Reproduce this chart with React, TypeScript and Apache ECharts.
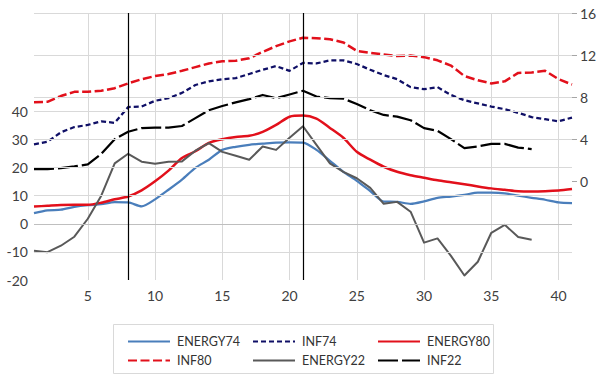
import React, { useEffect, useRef } from "react";
import * as echarts from "echarts";

const categories = ["1","2","3","4","5","6","7","8","9","10","11","12","13","14","15","16","17","18","19","20","21","22","23","24","25","26","27","28","29","30","31","32","33","34","35","36","37","38","39","40","41"];

const energy74 = [3.8,4.8,5.0,6.0,6.6,6.95,7.7,7.6,6.2,8.7,12.1,15.7,19.9,22.8,26.3,27.4,28.1,28.5,28.9,29.0,28.9,26.3,22.4,18.5,15.3,11.6,7.9,7.8,7.1,8.0,9.25,9.7,10.3,11.1,11.1,10.85,10.0,9.25,8.55,7.6,7.35];
const inf74 = [3.5,3.75,4.65,5.15,5.35,5.7,5.55,7.05,7.1,7.65,7.9,8.4,9.15,9.5,9.7,9.8,10.2,10.6,10.95,10.5,11.25,11.2,11.5,11.5,11.15,10.6,10.1,9.7,8.95,8.75,8.95,8.2,7.7,7.4,7.1,6.85,6.5,6.1,5.9,5.7,6.05];
const energy80 = [6.15,6.4,6.65,6.75,6.75,7.5,8.7,9.7,11.9,15.1,18.9,23.4,25.8,28.8,30.1,30.9,31.3,32.7,35.2,38.1,38.5,37.4,34.1,30.6,25.6,22.8,20.3,18.5,17.3,16.4,15.5,14.8,14.1,13.3,12.6,12.1,11.6,11.5,11.6,11.85,12.35];
const inf80 = [7.5,7.55,8.1,8.5,8.5,8.6,8.85,9.3,9.7,10.0,10.2,10.5,10.85,11.2,11.4,11.45,11.7,12.3,12.85,13.3,13.65,13.6,13.5,13.2,12.4,12.2,12.05,11.9,11.95,11.8,11.5,11.0,10.0,9.6,9.3,9.5,10.3,10.35,10.5,9.7,9.2];
const energy22 = [-9.6,-10.1,-7.8,-4.6,1.8,10.0,21.5,24.9,22.1,21.4,22.1,22.2,26.0,28.7,25.6,24.2,22.8,27.5,26.3,30.6,34.7,28.1,21.5,18.5,16.2,12.8,7.1,7.8,4.3,-6.7,-5.2,-11.4,-18.4,-13.5,-3.2,-0.35,-4.7,-5.7,null,null,null];
const inf22 = [1.15,1.15,1.25,1.4,1.6,2.6,4.0,4.7,5.05,5.1,5.1,5.25,6.0,6.75,7.15,7.5,7.8,8.2,7.9,8.25,8.6,8.05,7.9,7.85,7.35,6.75,6.3,6.15,5.8,5.05,4.8,4.0,3.15,3.3,3.55,3.55,3.2,3.05,null,null,null];

const leftTickLabels = [-20, -10, 0, 10, 20, 30, 40];
const rightTickLabels = [0, 4, 8, 12, 16];
const leftGridValues = [-10, 0, 10, 20, 30, 40];
const rightGridValues = [8, 12, 16];
const eventMarkers = ["8", "21"];

const FONT = "Lato";

export default function App() {
  const ref = useRef<HTMLDivElement>(null);
  useEffect(() => {
    if (!ref.current) return;
    const chart = echarts.init(ref.current, null, { renderer: "svg" });
    const gridLine = { color: "#d9d9d9", width: 1, type: "solid" };
    const mkLine = (name: string, data: any[], color: string, width: number, type: any, yAxisIndex: number, smooth: any) => ({
      name,
      type: "line",
      data,
      yAxisIndex,
      symbol: "none",
      smooth,
      connectNulls: false,
      lineStyle: { color, width, type, cap: "butt", join: "round" },
      itemStyle: { color },
      z: 3,
    });
    const option: any = {
      animation: false,
      grid: { left: 34, right: 32, top: 13, bottom: 100, containLabel: false },
      xAxis: {
        type: "category",
        data: categories,
        boundaryGap: false,
        axisLine: { show: false },
        axisTick: { show: false },
        axisLabel: {
          interval: (i: number) => (i + 1) % 5 === 0,
          fontFamily: FONT,
          fontSize: 14,
          color: "#404040",
          margin: 8,
        },
        splitLine: {
          show: true,
          interval: (i: number) => (i + 1) % 5 === 0,
          lineStyle: gridLine,
        },
      },
      yAxis: [
        {
          type: "value",
          min: -20,
          max: 75,
          interval: 10,
          axisLine: { show: false },
          axisTick: { show: false },
          splitLine: { show: false },
          axisLabel: {
            fontFamily: FONT,
            fontSize: 14,
            color: "#404040",
            margin: 6,
            formatter: (v: number) => (leftTickLabels.indexOf(v) >= 0 ? String(v) : ""),
          },
        },
        {
          type: "value",
          position: "right",
          min: -9.4,
          max: 16,
          axisLine: { show: false },
          axisTick: { show: true, length: 5, lineStyle: { color: "#a6a6a6" }, customValues: rightTickLabels },
          splitLine: { show: false },
          axisLabel: {
            fontFamily: FONT,
            fontSize: 14,
            color: "#404040",
            margin: 8,
            customValues: rightTickLabels,
            formatter: (v: number) => (rightTickLabels.indexOf(v) >= 0 ? String(v) : ""),
          },
        },
      ],
      legend: [
        { names: ["ENERGY74", "INF80"], left: 122 },
        { names: ["INF74", "ENERGY22"], left: 247 },
        { names: ["ENERGY80", "INF22"], left: 372 },
      ].map((l) => ({
        data: l.names,
        left: l.left,
        top: 330,
        orient: "vertical",
        itemWidth: 42,
        itemHeight: 14,
        itemGap: 6,
        selectedMode: false,
        itemStyle: { opacity: 0, color: "rgba(0,0,0,0)", borderWidth: 0 },
        textStyle: { fontFamily: FONT, fontSize: 12.5, color: "#333333", padding: [0, 0, 0, 2] },
      })),
      graphic: [
        {
          type: "rect",
          shape: { x: 113.5, y: 324.5, width: 380, height: 49 },
          style: { fill: "none", stroke: "#d9d9d9", lineWidth: 1 },
          silent: true,
        },
      ],
      series: [
        {
          name: "gridLeft",
          type: "line",
          data: [],
          yAxisIndex: 0,
          z: 1,
          silent: true,
          markLine: {
            silent: true,
            symbol: "none",
            label: { show: false },
            animation: false,
            data: leftGridValues.map((v) => ({
              yAxis: v,
              lineStyle: { color: v === 0 ? "#bfbfbf" : "#d9d9d9", width: 1, type: "solid" },
            })),
          },
        },
        {
          name: "gridRight",
          type: "line",
          data: [],
          yAxisIndex: 1,
          z: 1,
          silent: true,
          markLine: {
            silent: true,
            symbol: "none",
            label: { show: false },
            animation: false,
            data: rightGridValues.map((v) => ({
              yAxis: v,
              lineStyle: { color: "#d9d9d9", width: 1, type: "solid" },
            })),
          },
        },
        {
          ...mkLine("ENERGY74", energy74, "#4a7ebb", 2.25, "solid", 0, 0.25),
          markLine: {
            silent: true,
            symbol: "none",
            label: { show: false },
            animation: false,
            data: eventMarkers.map((c) => ({
              xAxis: c,
              lineStyle: { color: "#000000", width: 1.2, type: "solid" },
            })),
          },
        },
        mkLine("INF74", inf74, "#0f0f66", 2.25, [5, 3], 1, false),
        mkLine("ENERGY80", energy80, "#e2101b", 2.5, "solid", 0, 0.25),
        mkLine("INF80", inf80, "#e2101b", 2.5, [9, 3.5], 1, false),
        mkLine("ENERGY22", energy22, "#595959", 2, "solid", 0, false),
        mkLine("INF22", inf22, "#000000", 2.25, [20, 4], 1, false),
      ],
    };
    chart.setOption(option);
    return () => chart.dispose();
  }, []);
  return (
    <div
      ref={ref}
      style={{ position: "fixed", left: 0, top: 0, width: 604, height: 380, background: "#ffffff" }}
    />
  );
}
